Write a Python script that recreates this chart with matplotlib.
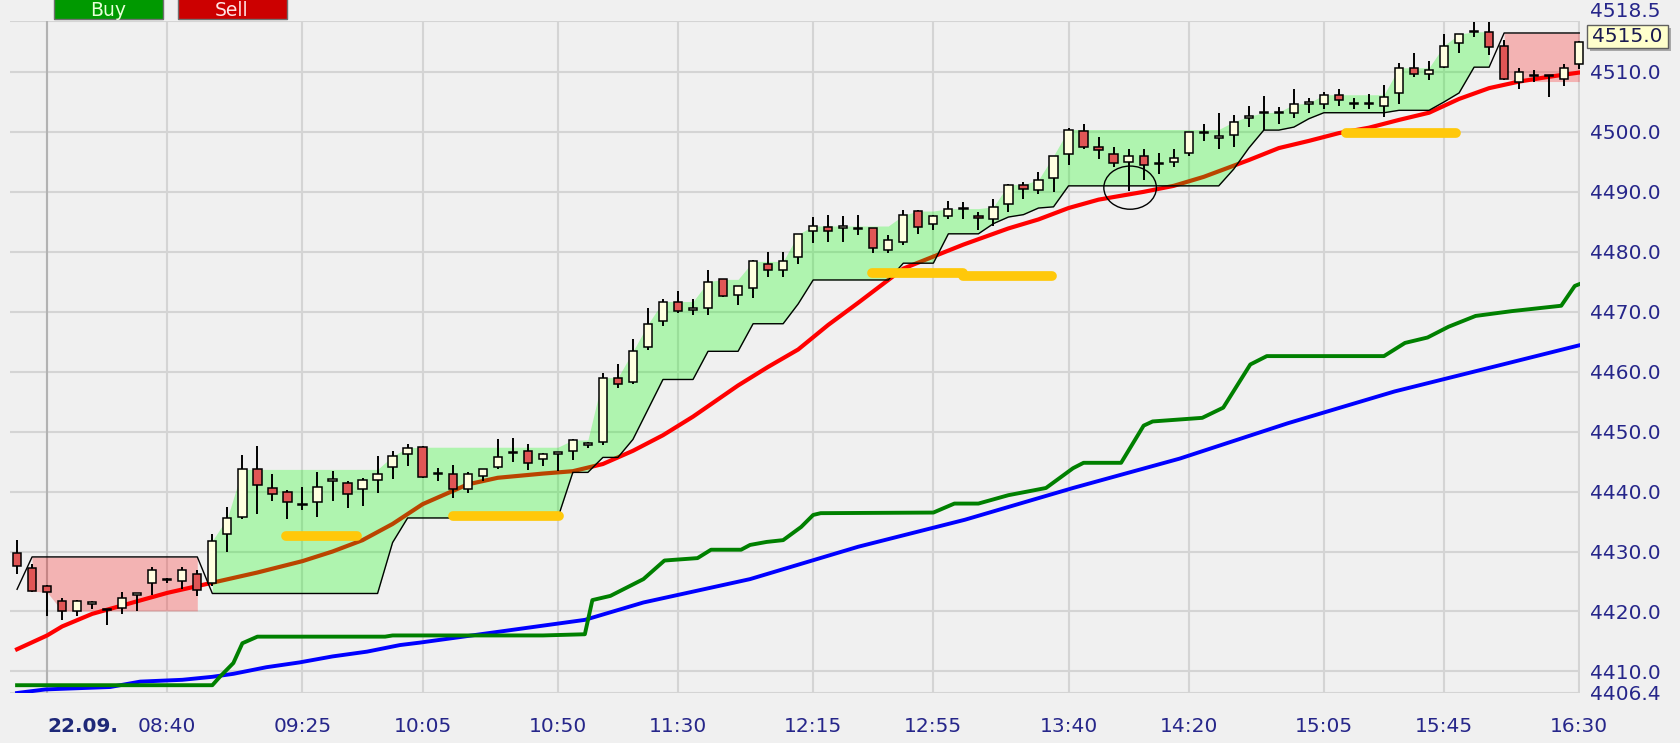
import numpy as np
import matplotlib.pyplot as plt
from matplotlib.patches import Ellipse, Rectangle

# 5 minute candles, 07:50 .. 16:30
opens = [4429.8, 4427.3, 4424.3, 4421.8, 4420.1, 4421.3, 4420.2, 4420.6, 4422.8, 4424.8,
         4425.2, 4425.1, 4426.3, 4424.7, 4432.9, 4435.7, 4443.7, 4440.6, 4440.0, 4437.8,
         4438.2, 4441.8, 4441.5, 4440.4, 4441.9, 4444.1, 4446.3, 4447.4, 4442.9, 4442.9,
         4440.4, 4442.6, 4444.1, 4446.4, 4446.7, 4445.4, 4446.3, 4446.7, 4447.8, 4448.2,
         4458.9, 4458.2, 4464.1, 4468.4, 4471.7, 4470.3, 4470.7, 4475.4, 4472.8, 4473.9,
         4478.0, 4476.9, 4479.2, 4483.5, 4484.2, 4484.0, 4483.8, 4483.9, 4480.3, 4481.7,
         4486.8, 4484.6, 4485.9, 4487.1, 4485.9, 4485.5, 4488.0, 4491.1, 4490.3, 4492.3,
         4496.3, 4500.2, 4497.4, 4496.3, 4494.9, 4496.0, 4494.6, 4494.9, 4496.4, 4499.8,
         4499.0, 4499.4, 4502.4, 4503.1, 4503.1, 4503.2, 4504.7, 4504.7, 4506.2, 4504.6,
         4504.6, 4504.3, 4506.5, 4510.6, 4509.6, 4510.9, 4514.8, 4516.6, 4516.7, 4514.3,
         4508.4, 4509.3, 4509.3, 4508.9, 4511.4]
highs = [4431.9, 4428.0, 4424.4, 4422.3, 4421.9, 4421.7, 4420.3, 4423.2, 4423.0, 4427.4,
         4425.6, 4427.5, 4427.0, 4432.9, 4437.5, 4446.1, 4447.6, 4443.0, 4440.2, 4440.8,
         4443.3, 4443.4, 4441.8, 4442.3, 4445.9, 4446.8, 4447.9, 4447.6, 4444.0, 4444.4,
         4443.2, 4443.7, 4448.7, 4449.0, 4447.9, 4446.5, 4446.5, 4448.7, 4448.3, 4459.8,
         4461.3, 4465.4, 4470.7, 4472.2, 4473.5, 4472.2, 4477.0, 4475.5, 4474.3, 4478.7,
         4480.0, 4480.0, 4482.9, 4485.8, 4486.1, 4485.9, 4486.1, 4483.9, 4482.8, 4486.9,
         4486.9, 4486.1, 4488.4, 4488.3, 4486.6, 4488.8, 4491.3, 4491.6, 4493.3, 4496.0,
         4500.6, 4501.3, 4499.1, 4497.5, 4497.1, 4497.1, 4496.4, 4497.1, 4500.0, 4501.3,
         4503.1, 4502.9, 4504.4, 4506.0, 4504.1, 4507.1, 4505.6, 4506.7, 4507.1, 4505.7,
         4506.3, 4507.8, 4511.5, 4513.1, 4511.9, 4516.4, 4516.4, 4518.3, 4518.3, 4515.3,
         4510.7, 4510.4, 4509.4, 4511.4, 4515.2]
lows = [4426.3, 4423.3, 4419.3, 4418.6, 4419.3, 4420.4, 4417.8, 4419.6, 4420.0, 4422.7,
        4424.7, 4423.7, 4422.6, 4424.3, 4429.9, 4435.4, 4436.2, 4438.4, 4435.4, 4436.9,
        4435.7, 4438.4, 4437.3, 4437.6, 4439.8, 4442.1, 4444.3, 4442.3, 4441.8, 4439.0,
        4439.8, 4441.8, 4443.7, 4445.0, 4443.6, 4444.3, 4443.4, 4445.2, 4447.2, 4447.8,
        4457.3, 4457.9, 4463.7, 4467.6, 4469.8, 4469.4, 4469.4, 4472.5, 4471.2, 4472.3,
        4475.8, 4475.8, 4478.0, 4481.4, 4481.7, 4481.7, 4482.8, 4479.8, 4479.8, 4481.1,
        4482.9, 4483.6, 4485.5, 4485.5, 4483.6, 4484.3, 4486.6, 4488.8, 4489.6, 4489.9,
        4494.5, 4497.1, 4495.5, 4494.1, 4490.2, 4492.0, 4493.0, 4494.1, 4496.0, 4498.4,
        4497.2, 4497.5, 4500.8, 4500.3, 4501.4, 4502.4, 4503.1, 4503.9, 4504.3, 4503.9,
        4503.9, 4502.5, 4504.6, 4509.2, 4508.6, 4510.6, 4513.1, 4515.8, 4512.9, 4508.6,
        4507.2, 4508.3, 4505.8, 4507.6, 4510.5]
closes = [4427.6, 4423.4, 4423.2, 4420.1, 4421.8, 4421.4, 4420.3, 4422.3, 4422.9, 4426.9,
          4425.5, 4426.9, 4423.6, 4431.8, 4435.6, 4443.7, 4441.1, 4439.6, 4438.2, 4437.7,
          4440.7, 4441.9, 4439.6, 4441.9, 4443.0, 4445.9, 4447.3, 4442.4, 4443.0, 4440.4,
          4443.0, 4443.7, 4445.8, 4446.6, 4444.8, 4446.2, 4446.4, 4448.6, 4447.9, 4459.0,
          4457.9, 4463.4, 4467.9, 4471.7, 4470.2, 4470.4, 4475.0, 4472.7, 4474.3, 4478.4,
          4476.9, 4478.4, 4482.9, 4484.3, 4483.5, 4484.1, 4483.9, 4480.6, 4481.9, 4486.1,
          4484.1, 4485.9, 4487.2, 4487.2, 4485.7, 4487.5, 4491.2, 4490.4, 4492.0, 4496.0,
          4500.4, 4497.4, 4496.9, 4494.8, 4495.9, 4494.5, 4494.8, 4495.6, 4500.0, 4499.9,
          4499.2, 4501.7, 4502.6, 4503.2, 4503.3, 4504.6, 4504.8, 4506.2, 4505.3, 4504.7,
          4504.7, 4505.8, 4510.7, 4509.6, 4510.4, 4514.4, 4516.3, 4516.7, 4514.1, 4508.9,
          4510.0, 4509.4, 4509.4, 4510.7, 4515.0]

# trailing stop (black step line), one value per candle
stop_line = ([4423.7] + [4429.1] * 12 + [4423.0] * 12 + [4431.5] + [4435.6] * 11
             + [4443.2] * 2 + [4445.7] * 2 + [4448.7, 4453.7] + [4458.7] * 3
             + [4463.4] * 3 + [4468.0] * 3 + [4471.3] + [4475.3] * 6 + [4478.1] * 3
             + [4483.0] * 3 + [4484.7, 4485.8, 4486.2, 4487.3, 4487.5] + [4491.0] * 11
             + [4493.8, 4497.3, 4500.3, 4500.3, 4500.8, 4502.2] + [4503.2] * 5
             + [4503.6] * 3 + [4505.0, 4506.5, 4510.8, 4510.8] + [4516.5] * 6)

# trend phases: first candle, last candle, side
seg_start = [1, 13, 99]
seg_end = [12, 98, 104]
seg_side = ['short', 'long', 'short']

red_x = [0, 2, 3, 5, 8, 10, 13, 16, 19, 21, 23, 25, 27, 30, 32, 35, 37, 39, 41, 43, 45, 48,
         50, 52, 54, 56, 59, 61, 63, 66, 68, 70, 72, 75, 77, 79, 82, 84, 86, 88, 90, 92, 94,
         96, 98, 100, 102, 104]
red_y = [4413.7, 4416.0, 4417.5, 4419.6, 4421.7, 4423.1, 4424.8, 4426.5, 4428.4, 4430.0,
         4431.9, 4434.6, 4437.9, 4441.2, 4442.3, 4443.0, 4443.4, 4444.6, 4446.8, 4449.4,
         4452.5, 4457.7, 4460.8, 4463.7, 4467.8, 4471.5, 4477.2, 4479.2, 4481.2, 4483.9,
         4485.4, 4487.3, 4488.7, 4490.0, 4491.0, 4492.5, 4495.3, 4497.3, 4498.5, 4499.8,
         4500.7, 4502.0, 4503.2, 4505.5, 4507.3, 4508.4, 4509.2, 4509.9]

green_x = [0, 13, 13.5, 14.4, 15, 16, 24.5, 25, 35, 37.8, 38.3, 39.5, 41.7, 43.1, 45.3, 46.2,
           48.2, 48.8, 49.9, 51.0, 52.2, 53.0, 53.5, 61.0, 62.4, 64.0, 66.0, 68.5, 70.3, 71.0,
           73.5, 75.0, 75.6, 78.9, 80.3, 82.1, 83.2, 91.0, 92.4, 93.9, 95.3, 97.1, 99.5,
           102.8, 103.7, 104]
green_y = [4407.7, 4407.7, 4409.1, 4411.4, 4414.7, 4415.8, 4415.8, 4416.0, 4416.0, 4416.2,
           4421.9, 4422.6, 4425.4, 4428.5, 4428.9, 4430.3, 4430.3, 4431.1, 4431.6, 4431.9,
           4434.1, 4436.1, 4436.4, 4436.5, 4438.0, 4438.0, 4439.4, 4440.6, 4443.9, 4444.8,
           4444.8, 4451.0, 4451.7, 4452.3, 4454.0, 4461.2, 4462.6, 4462.6, 4464.8, 4465.7,
           4467.5, 4469.3, 4470.1, 4471.0, 4474.3, 4474.6]

blue_x = [0, 1.9, 6.2, 8.2, 11.0, 13.0, 14.4, 16.6, 18.8, 21.0, 23.3, 25.5, 26.8, 37.8, 41.7,
          48.8, 56.0, 63.1, 70.3, 77.4, 84.6, 91.7, 98.9, 104]
blue_y = [4406.4, 4407.0, 4407.4, 4408.3, 4408.6, 4409.1, 4409.6, 4410.7, 4411.5, 4412.5,
          4413.3, 4414.4, 4414.8, 4418.6, 4421.5, 4425.4, 4430.8, 4435.3, 4440.6, 4445.5,
          4451.4, 4456.7, 4461.2, 4464.4]

# yellow marker bars
bar_x0 = [17.9, 29.0, 56.9, 63.0, 88.5]
bar_x1 = [22.6, 36.1, 63.0, 68.9, 95.8]
bar_y = [4432.6, 4436.0, 4476.4, 4475.9, 4499.9]

tick_pos = [2, 10, 19, 27, 36, 44, 53, 61, 70, 78, 87, 95, 104]
tick_labels = ['22.09.', '08:40', '09:25', '10:05', '10:50', '11:30', '12:15', '12:55',
               '13:40', '14:20', '15:05', '15:45', '16:30']
y_ticks = [4406.4, 4410.0, 4420.0, 4430.0, 4440.0, 4450.0, 4460.0, 4470.0, 4480.0,
           4490.0, 4500.0, 4510.0, 4518.5]
last_price = 4515.0

W, H = 1681, 743
bg = '#f0f0f0'
label_col = '#26268a'

fig = plt.figure(figsize=(W / 100, H / 100), dpi=100, facecolor=bg)
ax = fig.add_axes([10 / W, 50 / H, 1570 / W, 672 / H], facecolor=bg)

o = np.array(opens)
c = np.array(closes)
hi = np.array(highs)
lo = np.array(lows)
idx = np.arange(len(o))

# moving averages under the shaded bands
ax.plot(blue_x, blue_y, color='#0000ff', lw=2.8, zorder=2)
ax.plot(green_x, green_y, color='#008000', lw=2.8, zorder=2)
ax.plot(red_x, red_y, color='#ff0000', lw=3.0, zorder=2)

# shaded trend bands
body_top = np.maximum(o, c)
body_bot = np.minimum(o, c)
stop = np.array(stop_line)
for a, b, side in zip(seg_start, seg_end, seg_side):
    xs = idx[a:b + 1]
    if side == 'long':
        top = np.maximum.accumulate(body_top[a:b + 1])
        ax.fill_between(xs, stop[a:b + 1], top, color='#00ff00', alpha=0.27, lw=0, zorder=3)
    else:
        bot = np.minimum.accumulate(body_bot[a:b + 1])
        ax.fill_between(xs, bot, stop[a:b + 1], color='#ff0000', alpha=0.25, lw=0, zorder=3)

ax.plot(idx, stop, color='black', lw=1.0, zorder=4)

for x0, x1, yy in zip(bar_x0, bar_x1, bar_y):
    ax.plot([x0, x1], [yy, yy], color='#ffc80a', lw=7, solid_capstyle='round', zorder=4.5)

# candles
ax.vlines(idx, lo, hi, color='black', lw=1.4, zorder=5, clip_on=False)
heights = np.maximum(np.abs(c - o), 0.25)
fills = np.where(c >= o, '#ffffe0', '#e05555')
ax.bar(idx, heights, bottom=body_bot, width=0.55, color=fills, edgecolor='black',
       linewidth=1.1, zorder=6, clip_on=False)

ax.add_patch(Ellipse((74.1, 4490.7), 3.5, 7.2, fill=False, ec='black', lw=1.0, zorder=7))

ax.set_xlim(-0.47, 104.05)
ax.set_ylim(4406.4, 4518.5)
ax.set_xticks(tick_pos)
ax.set_xticklabels(tick_labels)
ax.set_yticks(y_ticks)
ax.set_yticklabels([f'{v:.1f}' for v in y_ticks])
ax.yaxis.tick_right()
ax.tick_params(axis='x', length=0, pad=17, labelsize=14.5, labelcolor=label_col)
ax.tick_params(axis='y', length=0, pad=7, labelsize=14.5, labelcolor=label_col)
first = ax.get_xticklabels()[0]
first.set_horizontalalignment('left')
first.set_fontweight('bold')
first.set_color('#1e2878')
# top label sits above the top line
ax.get_yticklabels()[-1].set_verticalalignment('bottom')
for s in ax.spines.values():
    s.set_visible(False)
ax.grid(True, color='#d4d4d4', lw=1.5)
ax.set_axisbelow(True)
ax.axvline(tick_pos[0], color='#b2b2b2', lw=1.5, zorder=0.6)


def fx(px):
    return px / W


def fy(py):
    return 1 - py / H


# Buy / Sell buttons at the top
fig.add_artist(Rectangle((fx(54), fy(19)), 109 / W, 22 / H, transform=fig.transFigure,
                         facecolor='#009900', edgecolor='#707070', lw=1))
fig.add_artist(Rectangle((fx(178), fy(19)), 109 / W, 22 / H, transform=fig.transFigure,
                         facecolor='#cc0000', edgecolor='#707070', lw=1))
fig.text(fx(108), fy(15.5), 'Buy', color='#e8ffd8', fontsize=13.5, ha='center', va='baseline')
fig.text(fx(232), fy(15.5), 'Sell', color='#ffe4e4', fontsize=13.5, ha='center', va='baseline')

# last price box
fig.add_artist(Rectangle((fx(1590), fy(51)), 81 / W, 23 / H, transform=fig.transFigure,
                         facecolor='#a8a8a8', edgecolor='none'))
fig.add_artist(Rectangle((fx(1587), fy(48)), 81 / W, 23 / H, transform=fig.transFigure,
                         facecolor='#ffffcc', edgecolor='#606060', lw=1))
fig.text(fx(1627), fy(37), f'{last_price:.1f}', color='#1a1a50', fontsize=14.5,
         ha='center', va='center')

fig.savefig('out.png', dpi=100, facecolor=bg)
